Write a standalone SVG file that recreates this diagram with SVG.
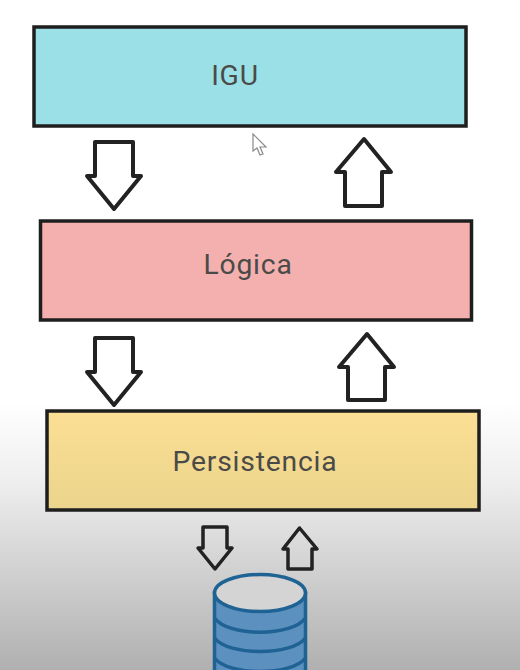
<svg xmlns="http://www.w3.org/2000/svg" width="520" height="670" viewBox="0 0 520 670">
<style>
.box{stroke:#1e1e1e;stroke-width:3.500}
.label{font-family:Roboto,"Liberation Sans",sans-serif;font-size:28.300px;fill:#4a4a48;text-anchor:middle;letter-spacing:.8px}
.arrow{fill:none;stroke:#222;stroke-width:4;stroke-linejoin:round}
.small{stroke-width:3.500}
.db{stroke:#1f6294;stroke-width:3.500}
</style>
<defs>
<linearGradient id="bg" x1="0" y1="0" x2="0" y2="1">
<stop offset="0" stop-color="#fff"/>
<stop offset=".6" stop-color="#fff"/>
<stop offset=".72" stop-color="#eeeeee"/>
<stop offset="1" stop-color="#b0b0b0"/>
</linearGradient>
<linearGradient id="yellow" x1="0" y1="0" x2="0" y2="1">
<stop offset="0" stop-color="#fbdf94"/>
<stop offset="1" stop-color="#ebd48c"/>
</linearGradient>
</defs>
<rect width="520" height="670" fill="url(#bg)"/>
<g id="igu"><rect class="box" x="34" y="27" width="432" height="99" fill="#9be0e6"/><text class="label" x="235" y="85">IGU</text></g>
<g id="logica"><rect class="box" x="40.500" y="221" width="431" height="99" fill="#f3b0ae"/><text class="label" x="248" y="274">Lógica</text></g>
<g id="persistencia"><rect class="box" x="47" y="411" width="432" height="99" fill="url(#yellow)"/><text class="label" x="255" y="471">Persistencia</text></g>
<g id="connectors">
<path class="arrow" d="M95 142H133V176H141L114 209L87 176H95Z"/>
<path class="arrow" d="M364 139L391 172H382V206H345V172H336Z"/>
<path class="arrow" d="M95 338H133V372H141L114 405L87 372H95Z"/>
<path class="arrow" d="M367 334L394 367H385V400H348V367H339Z"/>
<path class="arrow small" d="M203 527H227V548H232L215 569L198 548H203Z"/>
<path class="arrow small" d="M299.500 528L317 549H312V569H288V549H283Z"/>
</g>
<g id="database">
<path class="db" fill="#5b90bf" d="M214.500 593V672H305.500V593Z"/>
<path class="db" fill="none" d="M214.500 618C228 637 292 637 305.500 618M214.500 638C228 656 292 656 305.500 638M214.500 658C228 676 292 676 305.500 658"/>
<ellipse class="db" cx="260" cy="593" rx="45.500" ry="18.500" fill="#d4d4d4"/>
</g>
<path id="cursor" d="M253 134V151L257 148L260 155L263 154L260 147L266 147Z" fill="#fff" stroke="#8a8a8a" stroke-width="1.200"/>
</svg>
